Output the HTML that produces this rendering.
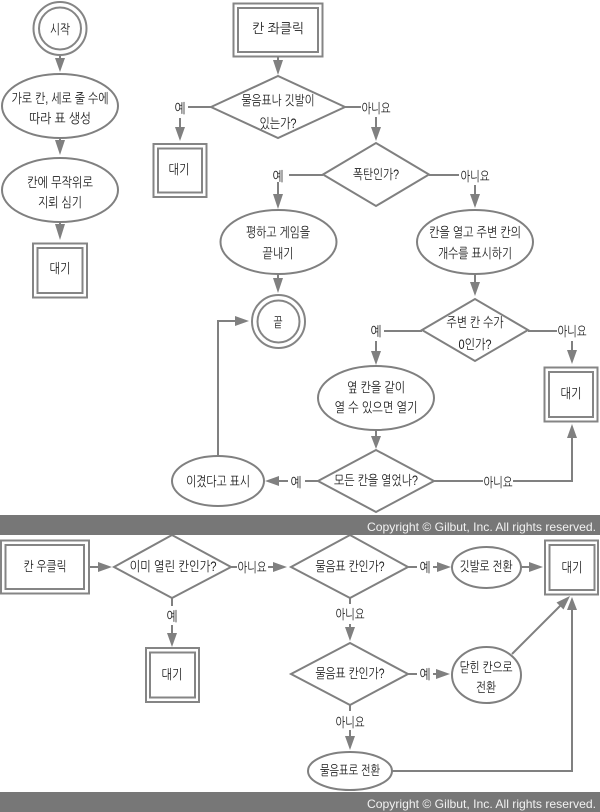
<!DOCTYPE html>
<html><head><meta charset="utf-8"><style>
html,body{margin:0;padding:0;background:#fff}
svg{display:block}
.s{fill:#fff;stroke:#858585;stroke-width:2}
.d{fill:#fff;stroke:#808080;stroke-width:2}
.l{fill:none;stroke:#808080;stroke-width:2}
.h{fill:#808080}
text{font-family:"Liberation Sans","NanumGothic","Noto Sans CJK KR",sans-serif;font-size:13.5px;fill:#1c1c1c;text-anchor:middle}
.c{font-family:"Liberation Sans",sans-serif;font-size:12px;fill:#f2f2f2;text-anchor:end}
</style></head><body>
<svg width="600" height="812" viewBox="0 0 600 812" xmlns="http://www.w3.org/2000/svg">
<g class="l">
<path d="M60 56V60M60 138V146M60 222V230"/>
<path d="M278 57V64M188 107H211M180 118V130M345 107H361M376 117V130"/>
<path d="M289 175H323M278 182V198M429 175H459M475 185V197"/>
<path d="M278 274V282M475 274V286M384 331H422M376 341V354M528 331H557M572 341V354"/>
<path d="M376 431V438M218 456V321H238M434 481H483M513 481H572V436M305 481H318M288 481H276"/>
<path d="M89 567H101M231 567H237M268 567H276M172 598V606M172 625V636"/>
<path d="M408 567H417M433 567H440M350 598V604M350 624V630M408 674H417M433 674H439M350 705V711M350 730V739"/>
<path d="M521 567H532M512 654L562 604M392 771H572V608"/>
</g>
<g class="h">
<path d="M55 58H65L60 72Z"/>
<path d="M55 140H65L60 155Z"/>
<path d="M55 224H65L60 240Z"/>
<path d="M273 60H283L278 75Z"/>
<path d="M175 127H185L180 141Z"/>
<path d="M371 127H381L376 141Z"/>
<path d="M273 194H283L278 209Z"/>
<path d="M470 194H480L475 208Z"/>
<path d="M273 278H283L278 293Z"/>
<path d="M470 282H480L475 296Z"/>
<path d="M371 351H381L376 365Z"/>
<path d="M567 350H577L572 364Z"/>
<path d="M371 436H381L376 449Z"/>
<path d="M235 316V326L249 321Z"/>
<path d="M567 438H577L572 424Z"/>
<path d="M279 476V486L265 481Z"/>
<path d="M98 562V572L112 567Z"/>
<path d="M273 562V572L287 567Z"/>
<path d="M167 633H177L172 647Z"/>
<path d="M437 562V572L451 567Z"/>
<path d="M529 562V572L543 567Z"/>
<path d="M345 627H355L350 641Z"/>
<path d="M436 669V679L450 674Z"/>
<path d="M345 736H355L350 750Z"/>
<path d="M567 610H577L572 597Z"/>
<path d="M556.500 602.500L563.500 609.500L570 596Z"/>
</g>
<circle class="s" cx="60" cy="28.500" r="26.500"/><circle class="s" cx="60" cy="28.500" r="21"/>
<circle class="s" cx="278.500" cy="321.500" r="26.500"/><circle class="s" cx="278.500" cy="321.500" r="21"/>
<g class="d">
<ellipse cx="60" cy="106" rx="58" ry="32"/>
<ellipse cx="60" cy="190" rx="58" ry="32"/>
<ellipse cx="278.500" cy="242" rx="58" ry="32"/>
<ellipse cx="475" cy="242" rx="58" ry="32"/>
<ellipse cx="376" cy="398" rx="58" ry="32"/>
<ellipse cx="218" cy="481" rx="46" ry="25"/>
<ellipse cx="486.500" cy="567.500" rx="34.500" ry="20.500"/>
<ellipse cx="486.500" cy="675" rx="34.500" ry="28"/>
<ellipse cx="350" cy="771" rx="42" ry="19"/>
<path d="M211 107L278 76L345 107L278 138Z"/>
<path d="M323 174.500L376 143L429 174.500L376 206Z"/>
<path d="M422 330L475 299L528 330L475 361Z"/>
<path d="M318 481L376 450L434 481L376 512Z"/>
<path d="M114 567L172 535L231 567L172 598Z"/>
<path d="M291 567L350 535L408 567L350 598Z"/>
<path d="M291 674L350 643L408 674L350 705Z"/>
</g>
<g class="s">
<rect x="33" y="243.500" width="54" height="54"/><rect x="37.500" y="248" width="45" height="45"/>
<rect x="233.500" y="3.500" width="89" height="53"/><rect x="238" y="8" width="80" height="44"/>
<rect x="153.500" y="144" width="53" height="53"/><rect x="158" y="148.500" width="44" height="44"/>
<rect x="544.500" y="367.500" width="53" height="54"/><rect x="549" y="372" width="44" height="45"/>
<rect x="1" y="540.500" width="88" height="53"/><rect x="5.500" y="545" width="78.500" height="44"/>
<rect x="146" y="648" width="53" height="54"/><rect x="150" y="652.500" width="45" height="45"/>
<rect x="545" y="540.500" width="53" height="54"/><rect x="549.500" y="545" width="45" height="45"/>
</g>
<rect y="515" width="600" height="20" fill="#777"/>
<rect y="792" width="600" height="20" fill="#777"/>
<text class="c" x="596" y="531" textLength="229" lengthAdjust="spacingAndGlyphs">Copyright © Gilbut, Inc. All rights reserved.</text>
<text class="c" x="596" y="808" textLength="229" lengthAdjust="spacingAndGlyphs">Copyright © Gilbut, Inc. All rights reserved.</text>
<g lengthAdjust="spacingAndGlyphs">
<text x="60" y="34" textLength="20" lengthAdjust="spacingAndGlyphs">시작</text>
<text x="60" y="103" textLength="97" lengthAdjust="spacingAndGlyphs">가로 칸, 세로 줄 수에</text>
<text x="60" y="123" textLength="62" lengthAdjust="spacingAndGlyphs">따라 표 생성</text>
<text x="60" y="187" textLength="66" lengthAdjust="spacingAndGlyphs">칸에 무작위로</text>
<text x="60" y="207" textLength="44" lengthAdjust="spacingAndGlyphs">지뢰 심기</text>
<text x="60" y="273" textLength="21" lengthAdjust="spacingAndGlyphs">대기</text>
<text x="278" y="33" textLength="52" lengthAdjust="spacingAndGlyphs">칸 좌클릭</text>
<text x="278" y="105" textLength="73" lengthAdjust="spacingAndGlyphs">물음표나 깃발이</text>
<text x="278" y="128" textLength="37" lengthAdjust="spacingAndGlyphs">있는가?</text>
<text x="180" y="113" textLength="11" lengthAdjust="spacingAndGlyphs">예</text>
<text x="376" y="113" textLength="29" lengthAdjust="spacingAndGlyphs">아니요</text>
<text x="179" y="174" textLength="21" lengthAdjust="spacingAndGlyphs">대기</text>
<text x="278" y="181" textLength="11" lengthAdjust="spacingAndGlyphs">예</text>
<text x="376" y="179" textLength="46" lengthAdjust="spacingAndGlyphs">폭탄인가?</text>
<text x="475" y="181" textLength="29" lengthAdjust="spacingAndGlyphs">아니요</text>
<text x="278" y="237" textLength="64" lengthAdjust="spacingAndGlyphs">평하고 게임을</text>
<text x="278" y="258" textLength="31" lengthAdjust="spacingAndGlyphs">끝내기</text>
<text x="475" y="237" textLength="92" lengthAdjust="spacingAndGlyphs">칸을 열고 주변 칸의</text>
<text x="475" y="258" textLength="74" lengthAdjust="spacingAndGlyphs">개수를 표시하기</text>
<text x="278" y="327" textLength="9" lengthAdjust="spacingAndGlyphs">끝</text>
<text x="475" y="327" textLength="57" lengthAdjust="spacingAndGlyphs">주변 칸 수가</text>
<text x="475" y="349" textLength="33" lengthAdjust="spacingAndGlyphs">0인가?</text>
<text x="376" y="336" textLength="11" lengthAdjust="spacingAndGlyphs">예</text>
<text x="572" y="336" textLength="29" lengthAdjust="spacingAndGlyphs">아니요</text>
<text x="571" y="398" textLength="21" lengthAdjust="spacingAndGlyphs">대기</text>
<text x="376" y="392" textLength="58" lengthAdjust="spacingAndGlyphs">옆 칸을 같이</text>
<text x="376" y="412" textLength="83" lengthAdjust="spacingAndGlyphs">열 수 있으면 열기</text>
<text x="376" y="485" textLength="84" lengthAdjust="spacingAndGlyphs">모든 칸을 열었나?</text>
<text x="498" y="487" textLength="29" lengthAdjust="spacingAndGlyphs">아니요</text>
<text x="296" y="487" textLength="11" lengthAdjust="spacingAndGlyphs">예</text>
<text x="218" y="486" textLength="64" lengthAdjust="spacingAndGlyphs">이겼다고 표시</text>
<text x="45" y="571" textLength="43" lengthAdjust="spacingAndGlyphs">칸 우클릭</text>
<text x="173" y="571" textLength="87" lengthAdjust="spacingAndGlyphs">이미 열린 칸인가?</text>
<text x="252" y="572" textLength="29" lengthAdjust="spacingAndGlyphs">아니요</text>
<text x="172" y="621" textLength="11" lengthAdjust="spacingAndGlyphs">예</text>
<text x="172" y="679" textLength="21" lengthAdjust="spacingAndGlyphs">대기</text>
<text x="350" y="571" textLength="69" lengthAdjust="spacingAndGlyphs">물음표 칸인가?</text>
<text x="425" y="572" textLength="11" lengthAdjust="spacingAndGlyphs">예</text>
<text x="486" y="571" textLength="53" lengthAdjust="spacingAndGlyphs">깃발로 전환</text>
<text x="572" y="572" textLength="21" lengthAdjust="spacingAndGlyphs">대기</text>
<text x="350" y="619" textLength="29" lengthAdjust="spacingAndGlyphs">아니요</text>
<text x="350" y="678" textLength="69" lengthAdjust="spacingAndGlyphs">물음표 칸인가?</text>
<text x="425" y="679" textLength="11" lengthAdjust="spacingAndGlyphs">예</text>
<text x="486" y="672" textLength="53" lengthAdjust="spacingAndGlyphs">닫힌 칸으로</text>
<text x="486" y="692" textLength="20" lengthAdjust="spacingAndGlyphs">전환</text>
<text x="350" y="727" textLength="29" lengthAdjust="spacingAndGlyphs">아니요</text>
<text x="350" y="775" textLength="60" lengthAdjust="spacingAndGlyphs">물음표로 전환</text>
</g>
</svg>
</body></html>
